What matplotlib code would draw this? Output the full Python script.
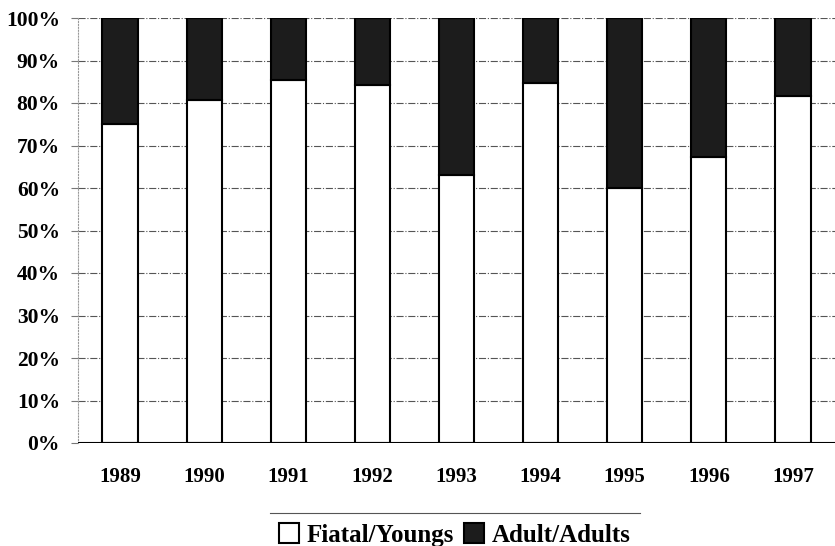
import matplotlib.pyplot as plt
from matplotlib.lines import Line2D
import numpy as np

# data (percent)
years = ['1989', '1990', '1991', '1992', '1993', '1994', '1995', '1996', '1997']
youngs = [75.0, 80.8, 85.5, 84.3, 63.1, 84.8, 60.1, 67.3, 81.6]
adults = [100 - v for v in youngs]
y_ticks = [0, 10, 20, 30, 40, 50, 60, 70, 80, 90, 100]

plt.rcParams['font.family'] = 'Liberation Serif'
plt.rcParams['font.weight'] = 'bold'

fig = plt.figure(figsize=(8.35, 5.46), dpi=100)
ax = fig.add_axes([78 / 835, 103 / 546, 1 - 78 / 835, 425 / 546])

x = np.arange(len(years))
w = 0.42

# grid lines behind the bars
for t in y_ticks[1:]:
    ax.axhline(t, color='#555555', linestyle='-.', linewidth=0.8, zorder=0)
ax.axhline(0, color='black', linewidth=1.5, zorder=3)

ax.bar(x, youngs, w, color='white', edgecolor='black', linewidth=1.5,
       label='Fiatal/Youngs', zorder=2)
ax.bar(x, adults, w, bottom=youngs, color='#1c1c1c', edgecolor='black',
       linewidth=1.5, label='Adult/Adults', zorder=2)

ax.set_xlim(-0.5, len(years) - 0.5)
ax.set_ylim(0, 100)
ax.set_yticks(y_ticks)
ax.set_yticklabels([f'{t}%' for t in y_ticks], fontsize=15.5, fontweight='bold')
ax.set_xticks(x)
ax.set_xticklabels(years, fontsize=15, fontweight='bold')
ax.tick_params(axis='x', length=0, pad=17)
ax.tick_params(axis='y', length=5, width=0.8, color='#777777', pad=8)

for s in ['top', 'right', 'bottom']:
    ax.spines[s].set_visible(False)
ax.spines['left'].set_linestyle(':')
ax.spines['left'].set_color('#999999')
ax.spines['left'].set_linewidth(0.8)

# legend with a thin rule above it
fig.add_artist(Line2D([270 / 835, 640 / 835], [1 - 513 / 546, 1 - 513 / 546],
                      color='#555555', linewidth=0.8))
fig.legend(loc='center', bbox_to_anchor=(455 / 835, 1 - 535 / 546), ncol=2,
           frameon=False, prop={'size': 18, 'weight': 'bold'},
           handlelength=0.8, handleheight=0.8, handletextpad=0.3,
           columnspacing=0.4, borderpad=0)

fig.savefig('out.png', dpi=100)
